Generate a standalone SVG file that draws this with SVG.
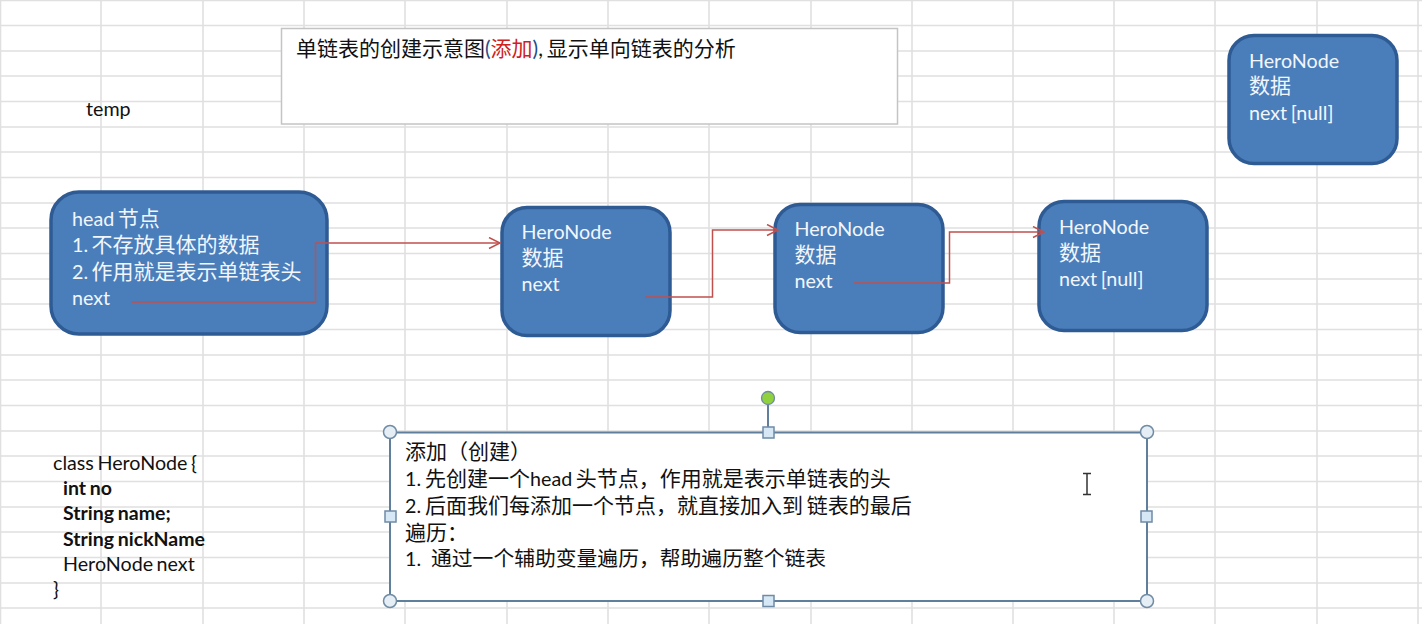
<svg xmlns="http://www.w3.org/2000/svg" width="1422" height="624" viewBox="0 0 1422 624">
<style>
text{font-family:"Lato","Noto Sans CJK SC",sans-serif;font-size:19.7px;fill:#111;word-spacing:-1.5px}
.z{font-size:21px}
.b{font-weight:bold;font-size:19.5px;word-spacing:-1px}
.n rect{fill:#4a7ebb;stroke:#2f5b94;stroke-width:3.5}
.n text{fill:#f2f6fb}
.grid path{stroke:#e0e0e0;stroke-width:1.6;fill:none}
.c path{stroke:#c0504d;stroke-width:1.5;fill:none}
.h rect{fill:#d6e8f5;stroke:#6f8ba5;stroke-width:1.5}
.h circle{fill:#e6eef5;stroke:#6f8ba5;stroke-width:1.5}
</style>
<defs><marker id="a" markerWidth="14" markerHeight="14" refX="12" refY="6" orient="auto" markerUnits="userSpaceOnUse"><path d="M1 0.5L12 6L1 11.5" fill="none" stroke="#c0504d" stroke-width="1.5"/></marker></defs>
<rect width="1422" height="624" fill="#fff"/>
<g class="grid"><path d="M0.5 0V624M101 0V624M203 0V624M304 0V624M405 0V624M507 0V624M608 0V624M709 0V624M811 0V624M912 0V624M1013 0V624M1114 0V624M1215 0V624M1317 0V624M1418 0V624"/>
<path d="M0 0.5H1422M0 25.5H1422M0 51H1422M0 76H1422M0 101.500H1422M0 127H1422M0 152H1422M0 177.500H1422M0 203H1422M0 228H1422M0 253.500H1422M0 279H1422M0 304H1422M0 329.500H1422M0 355H1422M0 380H1422M0 405.500H1422M0 431H1422M0 456H1422M0 481.500H1422M0 507H1422M0 532H1422M0 557.500H1422M0 583H1422M0 608H1422"/></g>

<g id="title"><rect x="281.500" y="28.500" width="616" height="95.500" fill="#fff" stroke="#c4c4c4" stroke-width="1.500"/>
<text x="296" y="56" class="z">单链表的创建示意图<tspan fill="#1f4e8c">(</tspan><tspan fill="#d0201c">添加</tspan><tspan fill="#1f4e8c">)</tspan>, 显示单向链表的分析</text></g>
<g id="temp"><text x="86" y="115.500">temp</text></g>

<g id="head" class="n"><rect x="51" y="192" width="276" height="142" rx="28"/>
<text x="72" y="225.500">head <tspan class="z">节点</tspan></text><text x="72" y="252">1. <tspan class="z">不存放具体的数据</tspan></text><text x="72" y="279">2. <tspan class="z">作用就是表示单链表头</tspan></text><text x="72" y="305">next</text></g>
<g id="node1" class="n"><rect x="502" y="207.500" width="168" height="128" rx="25"/>
<text x="521.500" y="239">HeroNode</text><text x="521.500" y="265" class="z">数据</text><text x="521.500" y="291">next</text></g>
<g id="node2" class="n"><rect x="775" y="204.500" width="168" height="128" rx="25"/>
<text x="794.500" y="236">HeroNode</text><text x="794.500" y="262" class="z">数据</text><text x="794.500" y="288">next</text></g>
<g id="node3" class="n"><rect x="1039" y="201.500" width="168" height="129" rx="25"/>
<text x="1059" y="234">HeroNode</text><text x="1059" y="260" class="z">数据</text><text x="1059" y="285.500">next [null]</text></g>
<g id="node4" class="n"><rect x="1229" y="35.500" width="168" height="128" rx="25"/>
<text x="1249" y="67.500">HeroNode</text><text x="1249" y="93" class="z">数据</text><text x="1249" y="119.500">next [null]</text></g>

<g id="connectors" class="c">
<path d="M131 302H315.500V243H500" marker-end="url(#a)"/>
<path d="M645 297H712.500V230H778" marker-end="url(#a)"/>
<path d="M854 283H949.500V232H1044" marker-end="url(#a)"/>
</g>

<g id="class"><text x="53" y="469.500">class HeroNode {</text><text x="63" y="495" class="b">int no</text><text x="63" y="520" class="b">String name;</text><text x="63" y="545.500" class="b">String nickName</text><text x="63" y="571">HeroNode next</text><text x="53" y="596">}</text></g>

<g id="note"><rect x="390" y="432.500" width="757" height="168.500" fill="#fff" stroke="#5f7f9c" stroke-width="2"/>
<path d="M768 398V432" stroke="#5f7f9c" stroke-width="2"/>
<text x="405" y="459" class="z">添加（创建）</text>
<text x="405" y="486">1. <tspan class="z" x="425">先创建一个</tspan>head <tspan class="z">头节点，作用就是表示单链表的头</tspan></text>
<text x="405" y="513">2. <tspan class="z" x="425">后面我们每添加一个节点，就直接加入到 链表的最后</tspan></text>
<text x="405" y="540" class="z">遍历：</text>
<text x="405" y="566">1. <tspan font-size="20.800" x="431">通过一个辅助变量遍历，帮助遍历整个链表</tspan></text>
<g class="h"><circle cx="390" cy="432" r="6.500"/><circle cx="1147" cy="432" r="6.500"/><circle cx="390" cy="601" r="6.500"/><circle cx="1147" cy="601" r="6.500"/>
<rect x="763" y="427" width="11" height="11"/><rect x="385" y="511" width="11" height="11"/><rect x="1141" y="511" width="11" height="11"/><rect x="763" y="595.500" width="11" height="11"/></g>
<circle cx="768" cy="398" r="6.500" fill="#8fd13f" stroke="#6f8ba5" stroke-width="1.300"/>
<path d="M1083 473.500H1091M1083 494.500H1091M1087 473.500V494.500" stroke="#333" stroke-width="1.500" fill="none"/></g>
</svg>
